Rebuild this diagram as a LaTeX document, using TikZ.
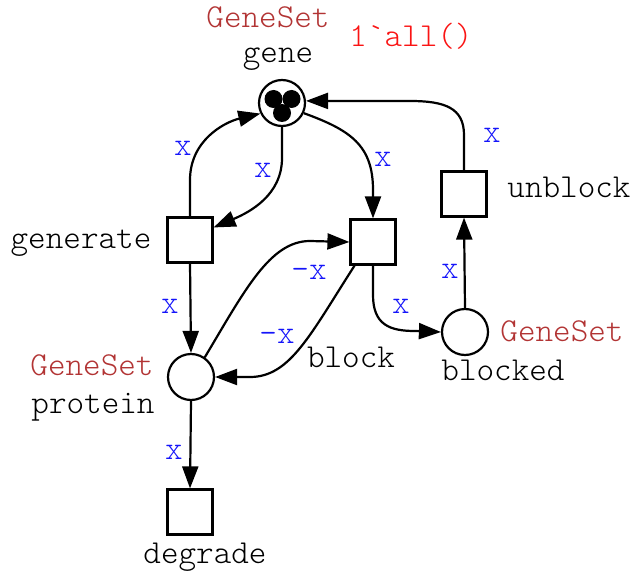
\documentclass[tikz,border=0pt]{standalone}
\usepackage{fontspec}
\newfontfamily\lightmono{Latin Modern Mono Light}
\usetikzlibrary{arrows.meta}
\definecolor{typecol}{RGB}{178,52,52}
\definecolor{initcol}{RGB}{250,20,20}
\definecolor{inscol}{RGB}{20,20,250}
\tikzset{
  place/.style={circle, draw, line width=2.2pt, minimum size=46pt, inner sep=0pt},
  trans/.style={rectangle, draw, line width=2.2pt, minimum size=45pt, inner sep=0pt},
  arc/.style={line width=2.2pt, -{Triangle[length=22pt,width=16pt]}},
  txt/.style={font=\lightmono\fontsize{33.5}{34}\selectfont, anchor=base, inner sep=0pt},
  tname/.style={txt, text=black},
  ttype/.style={txt, text=typecol},
  tinit/.style={txt, text=initcol},
  tins/.style={txt, text=inscol},
  token/.style={circle, fill=black, minimum size=18pt, inner sep=0pt},
}
\begin{document}
\begin{tikzpicture}[x=1pt, y=-1pt]
\useasboundingbox (0,0) rectangle (631,572);

% places
\node[place] (gene) at (282,103) {};
\node[place] (protein) at (191,377) {};
\node[place] (blocked) at (465,332) {};

% tokens of gene
\node[token] (tokA) at (273.5,99) {};
\node[token] (tokB) at (291.5,99) {};
\node[token] (tokC) at (282,113) {};

% transitions
\node[trans] (generate) at (190,240) {};
\node[trans] (block) at (373,242) {};
\node[trans] (unblock) at (464,194) {};
\node[trans] (degrade) at (190,512) {};

% place and transition texts
\node[ttype] (geneType) at (268,28) {GeneSet};
\node[tname] (geneName) at (278,63) {gene};
\node[tinit] (geneInit) at (411,47) {1\char"60 all()};
\node[tname] (generateName) at (81,248) {generate};
\node[tname] (blockName) at (351,367) {block};
\node[tname] (unblockName) at (569,197) {unblock};
\node[ttype] (blockedType) at (562,341) {GeneSet};
\node[tname] (blockedName) at (503,380) {blocked};
\node[ttype] (proteinType) at (92,375) {GeneSet};
\node[tname] (proteinName) at (93,413) {protein};
\node[tname] (degradeName) at (205,563) {degrade};

% arcs
\draw[arc] (generate.north) -- (190,180) .. controls (190,140) and (225,122) .. (gene.206);
\draw[arc] (gene.south) -- (282,158) .. controls (282,195) and (250,212) .. (generate.28);
\draw[arc] (gene.-25) .. controls (350,130) and (373,145) .. (373,190) -- (block.north);
\draw[arc] (unblock.north) -- (464,135) .. controls (464,108) and (445,101) .. (410,101) -- (gene.5);
\draw[arc] (generate.south) -- (protein.north);
\draw[arc] (protein.55) .. controls (245,290) and (270,241) .. (310,241) -- (block.west);
\draw[arc] (block.232) .. controls (310,335) and (290,377) .. (250,377) -- (protein.east);
\draw[arc] (block.south) -- (373,295) .. controls (373,325) and (390,331) .. (415,331) -- (blocked.west);
\draw[arc] (blocked.north) -- (unblock.south);
\draw[arc] (protein.south) -- (degrade.north);

% arc inscriptions
\node[tins] (i1) at (183,156) {x};
\node[tins] (i2) at (263,178) {x};
\node[tins] (i3) at (383,167) {x};
\node[tins] (i4) at (492,143) {x};
\node[tins] (i5) at (170,313) {x};
\node[tins] (i6) at (309,279) {-x};
\node[tins] (i7) at (277,343) {-x};
\node[tins] (i8) at (401,313) {x};
\node[tins] (i9) at (450,278) {x};
\node[tins] (i10) at (174,459) {x};
\end{tikzpicture}
\end{document}
